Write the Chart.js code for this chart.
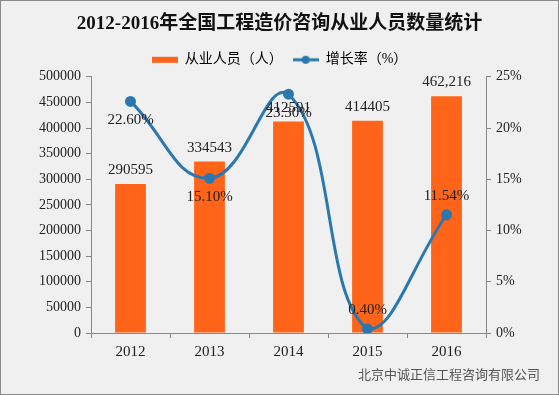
<!DOCTYPE html>
<html>
<head>
<meta charset="utf-8">
<script src="https://cdn.jsdelivr.net/npm/chart.js@4/dist/chart.umd.min.js"></script>
<style>
  body { margin: 0; background: #f0f0f0; }
  #wrap { position: relative; width: 559px; height: 395px; background: #f0f0f0; }
  #marco { position: absolute; left: 0; top: 0; width: 557px; height: 393px; border: 1px solid #8a8a8a; pointer-events: none; }
  #pie { position: absolute; left: 358px; top: 364px; font: 13px "Noto Sans CJK SC", sans-serif; color: #555; }
</style>
</head>
<body>
<div id="wrap">
  <canvas id="grafico" width="559" height="395"></canvas>
  <div id="pie">北京中诚正信工程咨询有限公司</div>
  <div id="marco"></div>
</div>
<script>
// Datos del gráfico
const anios = ['2012', '2013', '2014', '2015', '2016'];
const personal = [290595, 334543, 412591, 414405, 462216];
const etiquetasPersonal = ['290595', '334543', '412591', '414405', '462,216'];
const crecimiento = [22.60, 15.10, 23.30, 0.40, 11.54];
const posEtiquetaCrec = ['abajo', 'abajo', 'abajo', 'arriba', 'arriba'];

const fuente = '"Liberation Serif", "Noto Sans CJK SC", serif';
const naranja = '#ff6418';
const azul = '#2b78b0';

// Muestras de la leyenda
function muestra(tipo) {
    const c = document.createElement('canvas');
    c.width = 26; c.height = 10;
    const g = c.getContext('2d');
    if (tipo === 'barra') {
        g.fillStyle = naranja;
        g.fillRect(0, 2, 26, 6);
    } else {
        g.strokeStyle = azul;
        g.lineWidth = 3;
        g.beginPath(); g.moveTo(0, 5); g.lineTo(26, 5); g.stroke();
        g.fillStyle = azul;
        g.beginPath(); g.arc(13, 5, 4, 0, Math.PI * 2); g.fill();
    }
    return c;
}

// Etiquetas de datos
const etiquetasPlugin = {
    id: 'etiquetas',
    afterDatasetsDraw(chart) {
        const ctx = chart.ctx;
        ctx.save();
        ctx.font = '15px ' + fuente;
        ctx.fillStyle = '#222';
        ctx.textAlign = 'center';
        ctx.textBaseline = 'middle';
        chart.getDatasetMeta(0).data.forEach((el, i) => {
            ctx.fillText(etiquetasPersonal[i], el.x, el.y - 14);
        });
        chart.getDatasetMeta(1).data.forEach((el, i) => {
            const dy = posEtiquetaCrec[i] === 'abajo' ? 19 : -19;
            ctx.fillText(crecimiento[i].toFixed(2) + '%', el.x, el.y + dy);
        });
        ctx.restore();
    }
};

const ctx = document.getElementById('grafico');
if (ctx) {
    new Chart(ctx.getContext('2d'), {
        type: 'bar',
        data: {
            labels: anios,
            datasets: [
                {
                    label: '从业人员（人）',
                    data: personal,
                    backgroundColor: naranja,
                    categoryPercentage: 1,
                    barPercentage: 0.39,
                    yAxisID: 'y',
                    order: 2
                },
                {
                    type: 'line',
                    label: '增长率（%）',
                    data: crecimiento,
                    borderColor: azul,
                    backgroundColor: azul,
                    borderWidth: 3,
                    pointRadius: 4,
                    tension: 0.45,
                    yAxisID: 'y1',
                    order: 1
                }
            ]
        },
        options: {
            responsive: false,
            animation: false,
            layout: { padding: 0 },
            scales: {
                x: {
                    grid: { display: true, drawOnChartArea: false, drawTicks: true, tickLength: 5, color: '#888' },
                    border: { display: true, color: '#888' },
                    ticks: { font: { family: fuente, size: 15 }, color: '#222', padding: 5 },
                    afterFit(s) { s.height = 62; }
                },
                y: {
                    position: 'left',
                    min: 0, max: 500000,
                    grid: { display: true, drawOnChartArea: false, drawTicks: true, tickLength: 5, color: '#888' },
                    border: { display: true, color: '#888' },
                    ticks: {
                        stepSize: 50000, font: { family: fuente, size: 14 }, color: '#222', padding: 5,
                        callback: v => String(v)
                    },
                    afterFit(s) { s.width = 91; }
                },
                y1: {
                    position: 'right',
                    min: 0, max: 25,
                    grid: { display: true, drawOnChartArea: false, drawTicks: true, tickLength: 5, color: '#888' },
                    border: { display: true, color: '#888' },
                    ticks: {
                        stepSize: 5, font: { family: fuente, size: 14 }, color: '#222', padding: 5,
                        callback: v => v + '%'
                    },
                    afterFit(s) { s.width = 73; }
                }
            },
            plugins: {
                title: {
                    display: true,
                    text: '2012-2016年全国工程造价咨询从业人员数量统计',
                    font: { family: fuente, size: 19, weight: 'bold' },
                    color: '#111',
                    padding: { top: 13, bottom: 7 }
                },
                legend: {
                    display: true,
                    labels: {
                        usePointStyle: true,
                        pointStyleWidth: 26,
                        padding: 10,
                        color: '#222',
                        font: { family: fuente, size: 14 },
                        generateLabels: () => [
                            { text: '从业人员（人）', pointStyle: muestra('barra'), datasetIndex: 0, hidden: false, lineWidth: 0, fillStyle: naranja },
                            { text: '增长率（%）', pointStyle: muestra('linea'), datasetIndex: 1, hidden: false, lineWidth: 0, fillStyle: azul }
                        ]
                    }
                },
                tooltip: { enabled: false }
            }
        },
        plugins: [etiquetasPlugin]
    });
} else {
    console.error("No se encontró el canvas 'grafico'.");
}
</script>
</body>
</html>
